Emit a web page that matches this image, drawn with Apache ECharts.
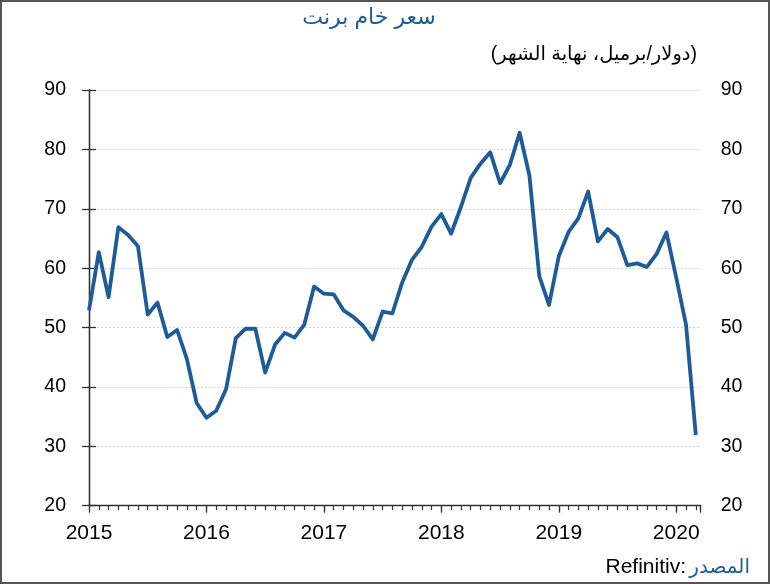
<!DOCTYPE html>
<html>
<head>
<meta charset="utf-8">
<script src="https://cdn.jsdelivr.net/npm/echarts@6/dist/echarts.min.js"></script>
<style>
html,body{margin:0;padding:0;background:#fff;}
#wrap{position:relative;width:770px;height:584px;}
#chart{position:absolute;left:0;top:0;width:770px;height:584px;}
#frame{position:absolute;left:0;top:0;width:770px;height:584px;box-sizing:border-box;border:2px solid #555;pointer-events:none;}
</style>
</head>
<body>
<div id="wrap"><div id="chart"></div><div id="frame"></div></div>
<script>
// Month index 0 = Jan 2015 ... 62 = Mar 2020 (month-end Brent, USD/bbl)
const months = Array.from({length: 63}, (_, i) => i);
const brent = [
  52.9, 62.7, 55.1, 66.9, 65.6, 63.7, 52.2, 54.2, 48.4, 49.6, 44.7, 37.3,
  34.8, 36.0, 39.6, 48.2, 49.8, 49.8, 42.4, 47.1, 49.1, 48.3, 50.5, 56.9,
  55.7, 55.6, 52.9, 51.8, 50.3, 48.0, 52.7, 52.4, 57.6, 61.4, 63.6, 67.0,
  69.1, 65.8, 70.3, 75.2, 77.6, 79.5, 74.3, 77.4, 82.8, 75.6, 58.7, 53.8,
  62.0, 66.1, 68.4, 72.9, 64.5, 66.6, 65.2, 60.5, 60.8, 60.2, 62.4, 66.0,
  58.4, 50.5, 31.9
];
const yearLabels = ['2015', '2016', '2017', '2018', '2019', '2020'];

const FONT = 'Arial, "Liberation Sans", "DejaVu Sans", sans-serif';
const BLUE = '#1d5c99';
const chart = echarts.init(document.getElementById('chart'), null, {renderer: 'canvas'});
const yLbl = {color: '#000', fontSize: 19.5, fontFamily: FONT};
const xLbl = {color: '#000', fontSize: 21, fontFamily: FONT};
const axisLine = {show: true, lineStyle: {color: '#333', width: 1.3}};

chart.setOption({
  animation: false,
  backgroundColor: '#fff',
  title: [
    {text: 'سعر خام برنت', left: 364, top: 2, textAlign: 'center',
     textStyle: {color: BLUE, fontSize: 22, fontWeight: 'normal', fontFamily: FONT}},
    {text: '(دولار/برميل، نهاية الشهر)', right: 68, top: 40,
     textStyle: {color: '#000', fontSize: 19.5, fontWeight: 'normal', fontFamily: FONT}}
  ],
  graphic: [
    {type: 'text', x: 750, y: 567,
     style: {text: 'المصدر', fill: BLUE, font: '20px ' + FONT, textAlign: 'right', textVerticalAlign: 'middle'}},
    {type: 'text', x: 686, y: 567,
     style: {text: 'Refinitiv:', fill: '#000', font: '21px ' + FONT, textAlign: 'right', textVerticalAlign: 'middle'}}
  ],
  grid: {left: 89, right: 69.3, top: 90, height: 415.7, containLabel: false},
  xAxis: [
    {
      type: 'value', min: 0, max: 62.5, interval: 12,
      axisLine: axisLine,
      axisTick: {show: true, length: 7, inside: false, lineStyle: {color: '#333', width: 1.3}},
      axisLabel: Object.assign({margin: 17, formatter: v => (v % 12 === 0 ? yearLabels[v / 12] : '')}, xLbl),
      splitLine: {show: false}
    },
    {
      type: 'value', min: 0, max: 62.5, interval: 1, position: 'bottom',
      axisLine: {show: false},
      axisTick: {show: true, length: 4.5, lineStyle: {color: '#333', width: 1.2}},
      axisLabel: {show: false},
      splitLine: {show: false}
    }
  ],
  yAxis: [
    {
      type: 'value', min: 20, max: 90, interval: 10, position: 'left',
      axisLine: axisLine,
      axisTick: {show: true, length: 7, lineStyle: {color: '#333', width: 1.3}},
      axisLabel: Object.assign({margin: 23}, yLbl),
      splitLine: {show: true, lineStyle: {color: '#d4d4d4', type: [2, 2], width: 1}}
    },
    {
      type: 'value', min: 20, max: 90, interval: 10, position: 'right',
      axisLine: axisLine,
      axisTick: {show: true, length: 7, lineStyle: {color: '#333', width: 1.3}},
      axisLabel: Object.assign({margin: 20}, yLbl),
      splitLine: {show: false}
    }
  ],
  series: [{
    type: 'line',
    xAxisIndex: 0, yAxisIndex: 0,
    data: months.map((m, i) => [m, brent[i]]),
    showSymbol: false,
    lineStyle: {color: BLUE, width: 3.8, join: 'round'},
    itemStyle: {color: BLUE}
  }]
});
</script>
</body>
</html>
